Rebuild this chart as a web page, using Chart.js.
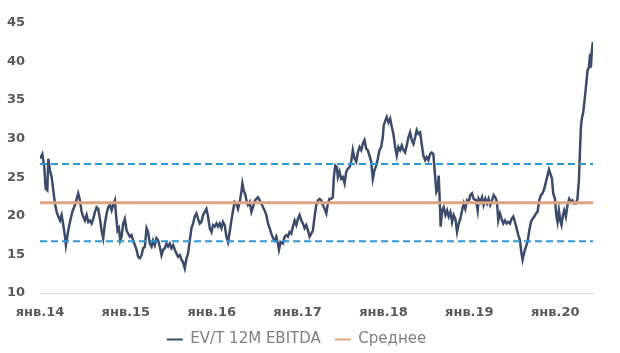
<!DOCTYPE html>
<html><head><meta charset="utf-8">
<script src="https://cdn.jsdelivr.net/npm/chart.js@4.4.1/dist/chart.umd.min.js"></script>
<style>html,body{margin:0;padding:0;background:#fff}#wrap{width:620px;height:353px;position:relative}</style>
</head><body><div id="wrap"><canvas id="c"></canvas></div>
<script>
const dates = [
2014.000,2014.027,2014.050,2014.066,2014.085,2014.097,2014.116,2014.136,2014.155,2014.174,
2014.194,2014.213,2014.233,2014.252,2014.271,2014.291,2014.302,2014.329,2014.349,2014.376,
2014.407,2014.427,2014.445,2014.465,2014.485,2014.503,2014.523,2014.543,2014.562,2014.581,
2014.601,2014.620,2014.640,2014.659,2014.678,2014.698,2014.717,2014.736,2014.756,2014.776,
2014.794,2014.814,2014.834,2014.852,2014.872,2014.884,2014.903,2014.919,2014.934,2014.950,
2014.969,2014.988,2015.008,2015.027,2015.047,2015.066,2015.085,2015.105,2015.124,2015.143,
2015.163,2015.183,2015.201,2015.221,
2015.241,2015.259,2015.279,2015.299,2015.317,2015.337,2015.357,2015.376,2015.395,2015.415,
2015.434,2015.453,2015.473,2015.492,2015.512,2015.531,2015.550,2015.570,2015.590,2015.608,
2015.628,2015.648,2015.666,2015.686,2015.706,2015.724,2015.744,2015.764,2015.783,2015.802,
2015.822,2015.841,2015.860,2015.880,2015.899,2015.919,2015.938,2015.957,2015.977,2015.997,
2016.015,2016.035,2016.055,2016.073,2016.093,2016.113,2016.131,2016.151,2016.171,2016.190,
2016.209,2016.229,2016.248,2016.267,2016.287,2016.306,2016.326,2016.345,2016.357,2016.372,
2016.392,2016.407,2016.422,2016.442,2016.462,2016.480,2016.500,2016.520,
2016.538,2016.558,2016.578,2016.597,2016.616,2016.636,2016.655,2016.674,2016.694,2016.713,
2016.733,2016.752,2016.771,2016.783,2016.802,2016.829,2016.849,2016.869,2016.887,2016.907,
2016.927,2016.945,2016.965,2016.985,2017.003,2017.023,2017.043,2017.062,2017.081,2017.101,
2017.120,2017.140,2017.159,2017.178,2017.198,2017.217,2017.236,2017.256,2017.276,2017.294,
2017.314,2017.334,2017.352,2017.372,2017.392,2017.410,2017.422,2017.438,2017.457,2017.469,
2017.488,2017.508,2017.527,2017.547,2017.566,2017.585,2017.605,2017.624,2017.643,2017.663,
2017.683,2017.701,2017.721,2017.741,2017.759,2017.779,
2017.799,2017.817,2017.837,2017.857,2017.876,2017.895,2017.915,2017.934,2017.953,2017.973,
2017.992,2018.003,2018.020,2018.038,2018.058,2018.078,2018.097,2018.116,2018.136,2018.155,
2018.174,2018.194,2018.213,2018.233,2018.252,2018.271,2018.291,2018.310,2018.329,2018.349,
2018.369,2018.387,2018.407,2018.427,2018.445,2018.465,2018.485,2018.503,2018.523,2018.543,
2018.562,2018.581,2018.593,2018.605,2018.616,2018.631,2018.643,2018.655,2018.666,2018.683,
2018.701,2018.721,2018.741,2018.759,2018.779,2018.799,2018.817,2018.837,2018.857,2018.876,
2018.895,2018.915,2018.934,2018.953,2018.973,2018.992,2019.012,2019.031,2019.050,2019.078,
2019.097,2019.108,2019.128,2019.148,2019.166,2019.186,2019.206,2019.224,2019.244,2019.264,
2019.283,2019.302,2019.322,2019.337,2019.357,2019.376,2019.395,2019.415,2019.434,2019.453,
2019.473,2019.492,2019.512,2019.531,2019.550,2019.570,2019.590,2019.605,2019.620,2019.640,
2019.659,2019.678,2019.698,2019.717,2019.736,2019.756,2019.776,2019.794,2019.814,2019.834,
2019.852,2019.872,2019.892,2019.910,2019.927,2019.942,2019.962,2019.977,2019.997,2020.012,
2020.027,2020.043,2020.058,2020.073,2020.090,2020.105,2020.124,2020.143,2020.163,2020.183,
2020.201,2020.221,2020.241,2020.259,2020.276,2020.287,2020.299,2020.310,2020.326,2020.341,
2020.357,2020.376,2020.392,2020.407,2020.415,2020.427,2020.438
];
const values = [
27.4,28.0,26.3,23.5,23.3,27.4,25.9,25.0,23.3,21.6,
20.5,19.9,19.4,20.1,18.8,17.3,16.2,18.1,19.2,20.5,
21.4,22.2,22.9,22.0,20.5,19.9,19.4,20.1,19.2,19.4,
19.0,19.6,20.5,21.1,20.9,19.6,18.1,17.1,19.0,20.3,
21.1,21.4,20.7,21.4,22.0,20.3,18.1,18.4,16.8,17.3,
19.0,19.6,18.1,17.7,17.3,17.5,16.8,16.2,15.6,14.7,
14.5,14.9,15.8,16.0,
18.4,17.9,16.4,16.0,16.8,16.2,17.1,16.8,16.0,14.9,
15.6,15.8,16.4,16.0,16.4,15.8,16.2,15.6,15.1,14.7,
14.9,14.3,14.0,13.2,14.5,15.1,16.8,18.4,19.0,19.9,
20.3,19.6,19.0,19.2,20.1,20.5,20.9,19.9,18.4,17.9,
18.8,18.6,19.0,18.6,19.0,18.4,19.2,18.8,17.3,16.6,
17.9,19.4,20.7,21.8,21.6,20.9,21.8,23.1,24.2,23.3,
22.7,21.8,21.4,21.8,20.5,21.1,21.9,22.2,
22.4,22.0,21.6,21.1,20.7,20.1,19.0,18.4,17.7,17.1,
16.8,17.3,16.4,15.6,16.6,16.4,17.3,17.5,17.3,17.9,
17.7,18.6,19.4,18.8,19.6,20.1,19.4,19.0,18.4,18.8,
18.1,17.3,17.7,18.1,19.9,21.4,22.0,22.2,22.0,21.4,
20.9,20.3,21.6,22.2,22.2,22.4,25.0,26.5,26.3,25.0,
25.7,24.8,25.0,24.2,25.7,26.1,26.3,27.0,28.5,27.4,
27.0,28.2,28.9,28.5,29.3,29.8,
28.7,28.5,27.8,27.0,24.8,25.9,26.5,27.4,28.5,28.9,
30.2,31.7,32.3,32.8,32.1,32.6,31.5,30.6,28.9,27.8,
28.9,28.5,29.1,28.5,28.2,29.1,30.2,30.8,29.8,29.3,
30.2,31.1,30.6,30.8,29.3,27.8,27.2,27.6,27.2,28.0,
28.2,28.0,26.3,24.6,23.1,23.5,25.2,22.0,18.6,20.7,
21.1,20.1,20.7,19.9,20.5,19.2,20.1,19.6,17.9,19.0,
19.6,20.7,21.6,20.9,22.0,21.8,22.7,22.9,22.2,22.0,
20.7,22.2,21.8,22.4,21.4,22.2,21.6,22.2,21.4,22.0,
22.7,22.4,21.8,19.4,20.3,19.6,19.0,19.4,19.0,19.2,
19.0,19.6,19.9,19.2,18.4,17.5,16.8,15.3,14.3,15.3,
16.0,16.6,18.1,19.2,19.6,19.9,20.3,20.5,22.0,22.7,
22.9,23.5,24.4,25.2,26.0,25.5,24.8,22.9,22.2,20.1,
19.2,20.7,19.4,18.8,20.1,20.7,19.9,21.4,22.2,21.8,
22.0,21.6,21.6,22.2,24.6,28.0,31.5,32.6,33.4,34.9,
36.6,38.8,39.2,41.0,39.2,41.4,42.5
];
const meanValue = [21.7];
const bandValues = [26.7, 16.7];
const tickYears = [2014, 2015, 2016, 2017, 2018, 2019, 2020];
const tickLabels = ['янв.14', 'янв.15', 'янв.16', 'янв.17', 'янв.18', 'янв.19', 'янв.20'];
const seriesNames = ['EV/T 12M EBITDA', 'Среднее'];
const xStart = 2014, xEnd = 2020.44;

const evData = dates.map((d, i) => ({x: d, y: values[i]}));
const flat = v => [{x: xStart, y: v}, {x: xEnd, y: v}];
const tickFont = {family: 'DejaVu Sans', size: 13, weight: 'bold'};

new Chart(document.getElementById('c'), {
  type: 'line',
  data: {datasets: [
    {label: seriesNames[0], data: evData, borderColor: '#3d4b6b', backgroundColor: '#3d4b6b', borderWidth: 2.5, pointRadius: 0, tension: 0, order: 3},
    {label: seriesNames[1], data: flat(meanValue[0]), borderColor: '#dca47f', backgroundColor: '#dca47f', borderWidth: 3, pointRadius: 0, order: 1},
    {label: 'upper', data: flat(bandValues[0]), borderColor: '#2f98d2', borderWidth: 2, borderDash: [7, 4], pointRadius: 0, order: 2},
    {label: 'lower', data: flat(bandValues[1]), borderColor: '#2f98d2', borderWidth: 2, borderDash: [7, 4], pointRadius: 0, order: 2}
  ]},
  options: {
    responsive: true, maintainAspectRatio: false, animation: false,
    layout: {padding: {top: 22, right: 27, left: 0, bottom: -4}},
    plugins: {
      tooltip: {enabled: false},
      legend: {
        position: 'bottom',
        labels: {
          boxWidth: 16, boxHeight: 2, padding: 14, color: '#7f7f7f',
          font: {family: 'DejaVu Sans', size: 15},
          filter: it => it.datasetIndex < 2,
          sort: (a, b) => a.datasetIndex - b.datasetIndex,
          generateLabels: chart => Chart.defaults.plugins.legend.labels.generateLabels(chart)
            .map(l => Object.assign({}, l, {fillStyle: l.strokeStyle, lineWidth: 0, lineDash: []}))
        }
      }
    },
    scales: {
      x: {
        type: 'linear', min: xStart, max: xEnd,
        grid: {display: false, drawTicks: false},
        border: {display: true, color: '#d9d9d9', width: 1},
        afterBuildTicks: s => { s.ticks = tickYears.map(v => ({value: v})); },
        afterFit: s => { s.height = 25; },
        ticks: {callback: v => tickLabels[tickYears.indexOf(v)], autoSkip: false, maxRotation: 0, padding: 12, color: '#595959', font: tickFont}
      },
      y: {
        min: 10, max: 45,
        grid: {display: false, drawTicks: false},
        border: {display: false},
        afterFit: s => { s.width = 40; },
        ticks: {stepSize: 5, padding: 15, color: '#595959', font: tickFont}
      }
    }
  }
});
</script></body></html>
